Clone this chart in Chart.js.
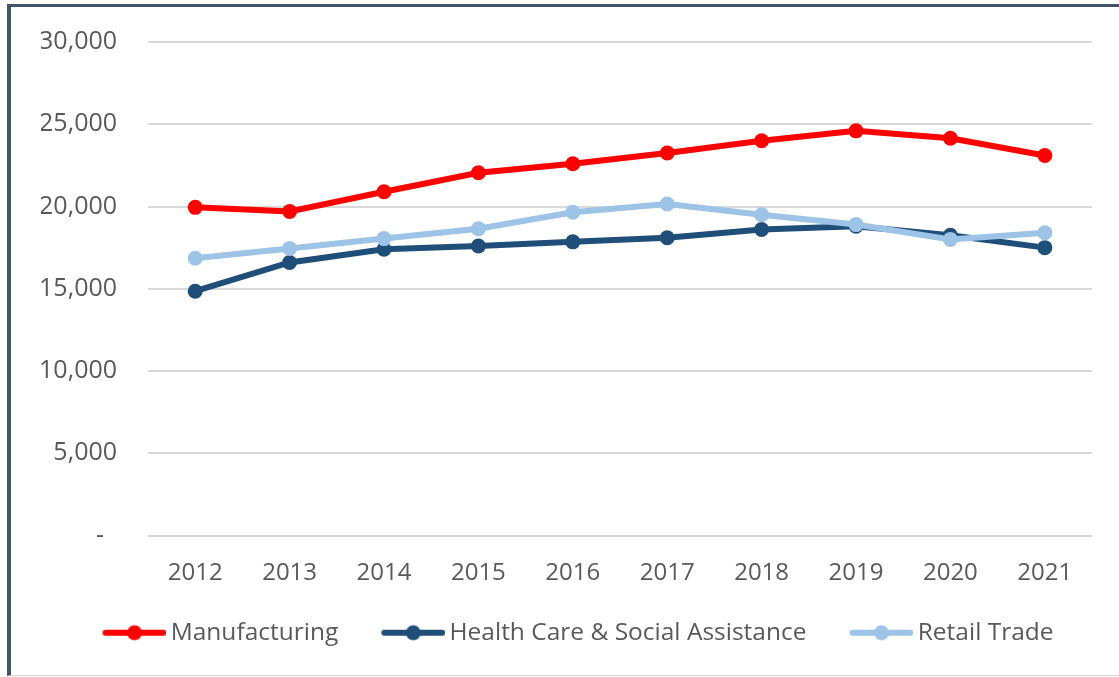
<!DOCTYPE html>
<html>
<head>
<meta charset="utf-8">
<script src="https://cdn.jsdelivr.net/npm/chart.js@4"></script>
<style>
  html, body { margin: 0; padding: 0; background: #fff; }
  #frame {
    position: absolute;
    left: 7px;
    top: 4px;
    width: 1112px;
    height: 672px;
    border-left: 4px solid #44546a;
    border-top: 3px solid #44546a;
    border-bottom: 1px solid #d9d9d9;
    box-sizing: border-box;
  }
  #wrap { position: absolute; left: 0; top: 0; right: 0; bottom: 0; }
</style>
</head>
<body>
<div id="frame"><div id="wrap"><canvas id="jobsChart"></canvas></div></div>
<script>
const years = ["2012", "2013", "2014", "2015", "2016", "2017", "2018", "2019", "2020", "2021"];
const manufacturing = [19950, 19700, 20900, 22050, 22600, 23250, 24000, 24600, 24150, 23100];
const healthCare = [14850, 16600, 17400, 17600, 17850, 18100, 18600, 18800, 18250, 17500];
const retailTrade = [16850, 17450, 18050, 18650, 19650, 20150, 19500, 18900, 18000, 18400];
const yTicks = [0, 5000, 10000, 15000, 20000, 25000, 30000];

const textColor = "#595959";
const fontFamily = "'Open Sans', sans-serif";

// legend marker: thick line with a dot, drawn at the right end of a wider image
// so the gap before the text stays small and the gap between items stays wide
function legendMarker(color) {
  const c = document.createElement("canvas");
  c.width = 95;
  c.height = 18;
  const g = c.getContext("2d");
  const x0 = 95 - 64;
  g.strokeStyle = color;
  g.lineWidth = 6;
  g.lineCap = "round";
  g.beginPath();
  g.moveTo(x0 + 3, 9);
  g.lineTo(x0 + 61, 9);
  g.stroke();
  g.fillStyle = color;
  g.beginPath();
  g.arc(x0 + 32, 9, 7.5, 0, Math.PI * 2);
  g.fill();
  return c;
}

function series(label, data, color, order) {
  return {
    label: label,
    data: data,
    borderColor: color,
    backgroundColor: color,
    pointBackgroundColor: color,
    pointBorderWidth: 0,
    pointRadius: 7.5,
    pointHoverRadius: 7.5,
    borderWidth: 6,
    tension: 0,
    order: order,
    marker: legendMarker(color),
  };
}

document.addEventListener("DOMContentLoaded", function () {
  const ctx = document.getElementById("jobsChart").getContext("2d");

  new Chart(ctx, {
    type: "line",
    data: {
      labels: years,
      datasets: [
        series("Manufacturing", manufacturing, "#ff0000", 2),
        series("Health Care & Social Assistance", healthCare, "#1f4e79", 1),
        series("Retail Trade", retailTrade, "#9dc3e6", 0),
      ],
    },
    options: {
      responsive: true,
      maintainAspectRatio: false,
      animation: false,
      layout: {
        padding: { top: 35, right: 27, bottom: 20, left: 30 },
      },
      scales: {
        x: {
          offset: true,
          grid: { display: false, drawTicks: false },
          border: { display: false },
          afterFit: function (scale) {
            scale.height = 65;
          },
          ticks: {
            color: textColor,
            font: { family: fontFamily, size: 24 },
            padding: 23,
            maxRotation: 0,
          },
        },
        y: {
          min: 0,
          max: 30000,
          afterBuildTicks: function (scale) {
            scale.ticks = yTicks.map((v) => ({ value: v }));
          },
          afterFit: function (scale) {
            scale.width = 107;
          },
          grid: { color: "#d9d9d9", lineWidth: 2, drawTicks: false },
          border: { display: false },
          ticks: {
            color: textColor,
            font: { family: fontFamily, size: 25 },
            padding: 18,
            // trailing spaces keep the labels clear of the grid start
            callback: function (value) {
              if (value === 0) return "-    ";
              return value.toLocaleString("en-US") + "  ";
            },
          },
        },
      },
      plugins: {
        tooltip: { enabled: false },
        legend: {
          display: true,
          position: "bottom",
          labels: {
            color: textColor,
            font: { family: fontFamily, size: 24.5 },
            usePointStyle: true,
            pointStyleWidth: 79,
            padding: 20,
            sort: (a, b) => a.datasetIndex - b.datasetIndex,
            generateLabels: function (chart) {
              const items = Chart.defaults.plugins.legend.labels.generateLabels(chart);
              items.forEach((item) => {
                item.pointStyle = chart.data.datasets[item.datasetIndex].marker;
              });
              return items;
            },
          },
        },
      },
    },
  });
});
</script>
</body>
</html>
